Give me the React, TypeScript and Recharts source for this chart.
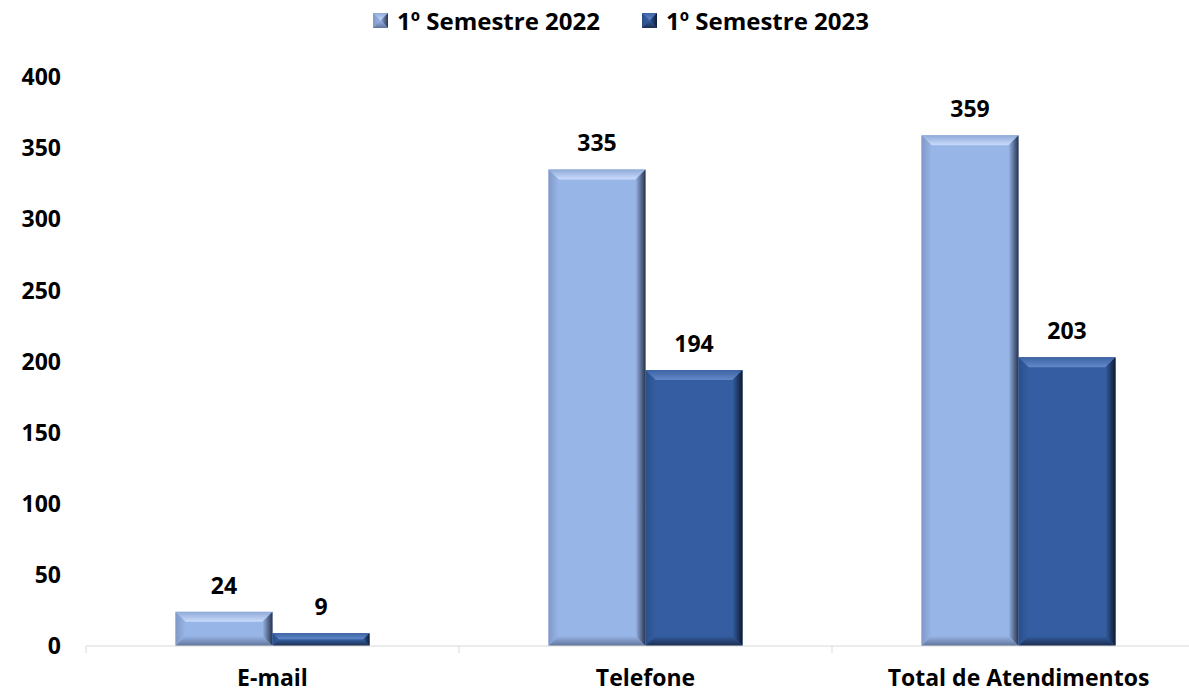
import { Bar, BarChart, LabelList, Legend, XAxis, YAxis } from "recharts";

const categories = ["E-mail", "Telefone", "Total de Atendimentos"];
const semestre2022 = [24, 335, 359];
const semestre2023 = [9, 194, 203];
const yTicks = [0, 50, 100, 150, 200, 250, 300, 350, 400];
const seriesNames = ["1º Semestre 2022", "1º Semestre 2023"];

const data = categories.map((name, i) => ({
  name,
  s2022: semestre2022[i],
  s2023: semestre2023[i],
}));

const FONT = "'Open Sans', 'Noto Sans', sans-serif";
const FONT_SIZE = 23;

type Palette = {
  face: string;
  top: [string, string];
  left: [string, string];
  right: [string, string];
  bottom: [string, string];
};

const lightPalette: Palette = {
  face: "#98b5e8",
  top: ["#8fa9d8", "#cadcfc"],
  left: ["#7f98c6", "#98b5e8"],
  right: ["#98b5e8", "#26324a"],
  bottom: ["#98b5e8", "#5f7398"],
};

const darkPalette: Palette = {
  face: "#345ea1",
  top: ["#3c63a3", "#6389c9"],
  left: ["#2b4f8b", "#345ea1"],
  right: ["#345ea1", "#0e1a30"],
  bottom: ["#345ea1", "#1c2d4e"],
};

function BevelBar(props: any) {
  const { x, y, width, height, index, palette, id, maxBevel = 10 } = props;
  if (!height || height <= 0) return null;
  const p: Palette = palette;
  const b = Math.min(maxBevel, height / 2, width / 2);
  const g = `${id}-${index}`;
  const x2 = x + width;
  const y2 = y + height;
  return (
    <g>
      <defs>
        <linearGradient id={`${g}-t`} x1="0" y1="0" x2="0" y2="1">
          <stop offset="0%" stopColor={p.top[0]} />
          <stop offset="100%" stopColor={p.top[1]} />
        </linearGradient>
        <linearGradient id={`${g}-l`} x1="0" y1="0" x2="1" y2="0">
          <stop offset="0%" stopColor={p.left[0]} />
          <stop offset="100%" stopColor={p.left[1]} />
        </linearGradient>
        <linearGradient id={`${g}-r`} x1="0" y1="0" x2="1" y2="0">
          <stop offset="0%" stopColor={p.right[0]} />
          <stop offset="100%" stopColor={p.right[1]} />
        </linearGradient>
        <linearGradient id={`${g}-b`} x1="0" y1="0" x2="0" y2="1">
          <stop offset="0%" stopColor={p.bottom[0]} />
          <stop offset="100%" stopColor={p.bottom[1]} />
        </linearGradient>
      </defs>
      <rect x={x} y={y} width={width} height={height} fill={p.face} />
      <polygon
        points={`${x},${y} ${x2},${y} ${x2 - b},${y + b} ${x + b},${y + b}`}
        fill={`url(#${g}-t)`}
      />
      <polygon
        points={`${x},${y} ${x + b},${y + b} ${x + b},${y2 - b} ${x},${y2}`}
        fill={`url(#${g}-l)`}
      />
      <polygon
        points={`${x2},${y} ${x2},${y2} ${x2 - b},${y2 - b} ${x2 - b},${y + b}`}
        fill={`url(#${g}-r)`}
      />
      <polygon
        points={`${x},${y2} ${x + b},${y2 - b} ${x2 - b},${y2 - b} ${x2},${y2}`}
        fill={`url(#${g}-b)`}
      />
    </g>
  );
}

function CategoryTick(props: any) {
  const { x, y, payload } = props;
  const half = payload?.offset ?? 0;
  return (
    <g>
      <line x1={x - half} x2={x - half} y1={y} y2={y + 7} stroke="#d9d9d9" strokeWidth={1} />
      <text
        x={x}
        y={y + 24}
        dy="0.71em"
        textAnchor="middle"
        fill="#000"
        fontFamily={FONT}
        fontSize={FONT_SIZE}
        fontWeight={700}
      >
        {payload.value}
      </text>
    </g>
  );
}

function LegendContent() {
  const palettes = [lightPalette, darkPalette];
  return (
    <div
      style={{
        display: "flex",
        alignItems: "center",
        fontFamily: FONT,
        fontWeight: 700,
        fontSize: 24,
      }}
    >
      {seriesNames.map((name, i) => (
        <div key={name} style={{ display: "flex", alignItems: "center", marginRight: 42 }}>
          <svg width={15} height={15} style={{ marginRight: 9 }}>
            <BevelBar x={0} y={0} width={15} height={15} index={i} palette={palettes[i]} id="legend" maxBevel={7.5} />
          </svg>
          <span style={{ color: "#000" }}>{name}</span>
        </div>
      ))}
    </div>
  );
}

export default function App() {
  return (
    <div
      style={{
        position: "fixed",
        top: 0,
        left: 0,
        width: 1189,
        height: 695,
        overflow: "hidden",
        background: "#fff",
      }}
    >
      <BarChart
        width={1222}
        height={695}
        data={data}
        margin={{ top: 77, right: 17, bottom: 0, left: 0 }}
        barCategoryGap="24%"
        barGap={0}
        style={{ fontFamily: FONT }}
      >
        <XAxis
          dataKey="name"
          height={49}
          tickSize={0}
          tickMargin={0}
          axisLine={{ stroke: "#d9d9d9" }}
          tickLine={false}
          tick={<CategoryTick />}
          interval={0}
        />
        <YAxis
          width={86}
          domain={[0, 400]}
          ticks={yTicks}
          axisLine={false}
          tickLine={false}
          tickSize={0}
          tickMargin={25}
          tick={{ fill: "#000", fontSize: FONT_SIZE, fontWeight: 700, fontFamily: FONT }}
        />
        <Legend
          layout="horizontal"
          verticalAlign="middle"
          align="center"
          wrapperStyle={{ top: 4, left: 373, width: "auto" }}
          content={<LegendContent />}
        />
        <Bar
          dataKey="s2022"
          name={seriesNames[0]}
          isAnimationActive={false}
          shape={(p: any) => <BevelBar {...p} palette={lightPalette} id="s2022" />}
        >
          <LabelList
            dataKey="s2022"
            position="top"
            offset={18}
            fill="#000"
            fontSize={FONT_SIZE}
            fontWeight={700}
            fontFamily={FONT}
          />
        </Bar>
        <Bar
          dataKey="s2023"
          name={seriesNames[1]}
          isAnimationActive={false}
          shape={(p: any) => <BevelBar {...p} palette={darkPalette} id="s2023" />}
        >
          <LabelList
            dataKey="s2023"
            position="top"
            offset={18}
            fill="#000"
            fontSize={FONT_SIZE}
            fontWeight={700}
            fontFamily={FONT}
          />
        </Bar>
      </BarChart>
    </div>
  );
}
